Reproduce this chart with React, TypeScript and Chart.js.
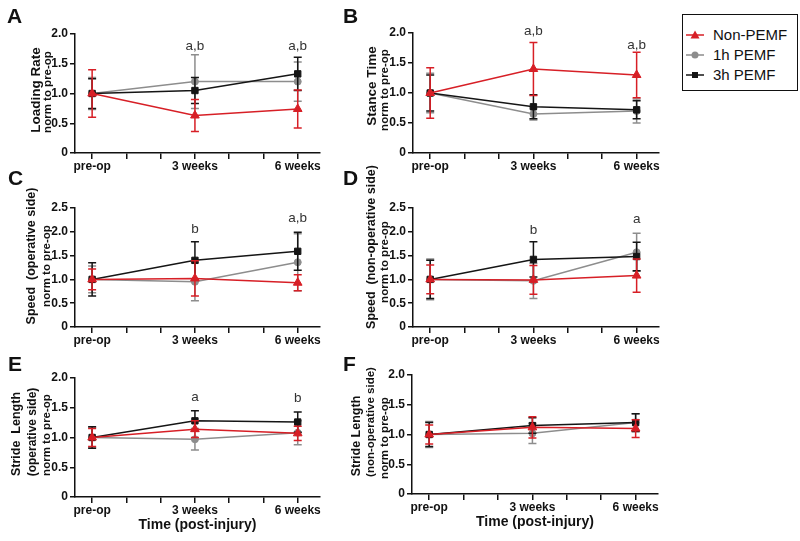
import React, { useEffect, useRef } from 'react';
import { Chart, registerables } from 'chart.js';
Chart.register(...registerables);

// ---------- data ----------
const weeks = [0, 3, 6];
const tickWeeks = [0, 1, 2, 3, 4, 5, 6];
const weekLabels: Record<number, string> = { 0: 'pre-op', 3: '3 weeks', 6: '6 weeks' };
const groupNames = ['Non-PEMF', '1h PEMF', '3h PEMF'];

// A: Loading rate
const loadingNon = [1.0, 0.63, 0.74];
const loadingNonErr = [0.4, 0.27, 0.32];
const loading1h = [1.0, 1.2, 1.2];
const loading1hErr = [0.27, 0.45, 0.33];
const loading3h = [1.0, 1.05, 1.33];
const loading3hErr = [0.25, 0.22, 0.28];
const loadingNotes = ['', 'a,b', 'a,b'];

// B: Stance time
const stanceNon = [1.0, 1.4, 1.3];
const stanceNonErr = [0.42, 0.44, 0.38];
const stance1h = [1.0, 0.65, 0.7];
const stance1hErr = [0.33, 0.1, 0.2];
const stance3h = [1.0, 0.77, 0.72];
const stance3hErr = [0.3, 0.2, 0.15];
const stanceNotes = ['', 'a,b', 'a,b'];

// C: Speed (operative side)
const speedOpNon = [1.0, 1.02, 0.93];
const speedOpNonErr = [0.22, 0.37, 0.17];
const speedOp1h = [1.0, 0.95, 1.36];
const speedOp1hErr = [0.28, 0.4, 0.6];
const speedOp3h = [1.0, 1.4, 1.59];
const speedOp3hErr = [0.35, 0.39, 0.4];
const speedOpNotes = ['', 'b', 'a,b'];

// D: Speed (non-operative side)
const speedNonOpNon = [1.0, 0.99, 1.08];
const speedNonOpNonErr = [0.3, 0.3, 0.35];
const speedNonOp1h = [1.0, 0.97, 1.57];
const speedNonOp1hErr = [0.43, 0.37, 0.4];
const speedNonOp3h = [1.0, 1.42, 1.48];
const speedNonOp3hErr = [0.4, 0.37, 0.3];
const speedNonOpNotes = ['', 'b', 'a'];

// E: Stride length (operative side)
const strideOpNon = [1.0, 1.14, 1.07];
const strideOpNonErr = [0.15, 0.14, 0.12];
const strideOp1h = [1.0, 0.97, 1.08];
const strideOp1hErr = [0.17, 0.18, 0.2];
const strideOp3h = [1.0, 1.28, 1.26];
const strideOp3hErr = [0.18, 0.17, 0.17];
const strideOpNotes = ['', 'a', 'b'];

// F: Stride length (non-operative side)
const strideNonOpNon = [1.0, 1.12, 1.1];
const strideNonOpNonErr = [0.16, 0.18, 0.15];
const strideNonOp1h = [1.0, 1.02, 1.2];
const strideNonOp1hErr = [0.22, 0.17, 0.15];
const strideNonOp3h = [1.0, 1.15, 1.2];
const strideNonOp3hErr = [0.2, 0.13, 0.15];
const strideNonOpNotes = ['', '', ''];

// ---------- styles ----------
const FONT = "'Liberation Sans', Arial, Helvetica, sans-serif";
const RED = '#d71f26';
const GRAY = '#8d8d8d';
const BLACK = '#151515';
const INK = '#111';

type Line = { t: string; cx: number; cy: number; s: number };
type PanelDef = {
  letter: string;
  yMax: number;
  non: number[]; nonErr: number[];
  h1: number[]; h1Err: number[];
  h3: number[]; h3Err: number[];
  notes: string[];
  noteY: number[];
  xTitle: boolean;
  L: { cl: number; ct: number; cw: number; ch: number; l: number; t: number; r: number; b: number; xh: number };
  letterPos: { x: number; y: number };
  titles: Line[];
};

const panels: PanelDef[] = [
  {
    letter: 'A', yMax: 2,
    non: loadingNon, nonErr: loadingNonErr, h1: loading1h, h1Err: loading1hErr, h3: loading3h, h3Err: loading3hErr,
    notes: loadingNotes, noteY: [0, 1.8, 1.8], xTitle: false,
    L: { cl: 0, ct: 0, cw: 340, ch: 175, l: 75, t: 34, r: 320, b: 153, xh: 20 },
    letterPos: { x: 7, y: 5 },
    titles: [
      { t: 'Loading Rate', cx: 36, cy: 90, s: 13.5 },
      { t: 'norm to pre-op', cx: 48, cy: 92, s: 11.5 },
    ],
  },
  {
    letter: 'B', yMax: 2,
    non: stanceNon, nonErr: stanceNonErr, h1: stance1h, h1Err: stance1hErr, h3: stance3h, h3Err: stance3hErr,
    notes: stanceNotes, noteY: [0, 2.03, 1.8], xTitle: false,
    L: { cl: 340, ct: 0, cw: 340, ch: 175, l: 413, t: 33, r: 659, b: 153, xh: 20 },
    letterPos: { x: 343, y: 5 },
    titles: [
      { t: 'Stance Time', cx: 372, cy: 86, s: 13.5 },
      { t: 'norm to pre-op', cx: 385, cy: 90, s: 11.5 },
    ],
  },
  {
    letter: 'C', yMax: 2.5,
    non: speedOpNon, nonErr: speedOpNonErr, h1: speedOp1h, h1Err: speedOp1hErr, h3: speedOp3h, h3Err: speedOp3hErr,
    notes: speedOpNotes, noteY: [0, 2.05, 2.28], xTitle: false,
    L: { cl: 0, ct: 175, cw: 340, ch: 175, l: 75, t: 208, r: 320, b: 327, xh: 20 },
    letterPos: { x: 8, y: 167 },
    titles: [
      { t: 'Speed  (operative side)', cx: 31, cy: 256, s: 12.5 },
      { t: 'norm to pre-op', cx: 47, cy: 266, s: 11.5 },
    ],
  },
  {
    letter: 'D', yMax: 2.5,
    non: speedNonOpNon, nonErr: speedNonOpNonErr, h1: speedNonOp1h, h1Err: speedNonOp1hErr, h3: speedNonOp3h, h3Err: speedNonOp3hErr,
    notes: speedNonOpNotes, noteY: [0, 2.03, 2.26], xTitle: false,
    L: { cl: 340, ct: 175, cw: 340, ch: 175, l: 413, t: 208, r: 659, b: 327, xh: 20 },
    letterPos: { x: 343, y: 167 },
    titles: [
      { t: 'Speed  (non-operative side)', cx: 371, cy: 247, s: 12.5 },
      { t: 'norm to pre-op', cx: 385, cy: 262, s: 11.5 },
    ],
  },
  {
    letter: 'E', yMax: 2,
    non: strideOpNon, nonErr: strideOpNonErr, h1: strideOp1h, h1Err: strideOp1hErr, h3: strideOp3h, h3Err: strideOp3hErr,
    notes: strideOpNotes, noteY: [0, 1.68, 1.66], xTitle: true,
    L: { cl: 0, ct: 350, cw: 340, ch: 191, l: 75, t: 378, r: 320, b: 497, xh: 37 },
    letterPos: { x: 8, y: 353 },
    titles: [
      { t: 'Stride  Length', cx: 16, cy: 434, s: 12.5 },
      { t: '(operative side)', cx: 32, cy: 432, s: 12 },
      { t: 'norm to pre-op', cx: 47, cy: 435, s: 11.5 },
    ],
  },
  {
    letter: 'F', yMax: 2,
    non: strideNonOpNon, nonErr: strideNonOpNonErr, h1: strideNonOp1h, h1Err: strideNonOp1hErr, h3: strideNonOp3h, h3Err: strideNonOp3hErr,
    notes: strideNonOpNotes, noteY: [0, 0, 0], xTitle: true,
    L: { cl: 340, ct: 350, cw: 340, ch: 191, l: 412, t: 375, r: 658, b: 494, xh: 37 },
    letterPos: { x: 343, y: 353 },
    titles: [
      { t: 'Stride Length', cx: 356, cy: 436, s: 12.5 },
      { t: '(non-operative side)', cx: 371, cy: 422, s: 11.5 },
      { t: 'norm to pre-op', cx: 385, cy: 438, s: 11.5 },
    ],
  },
];

const errorBarPlugin = {
  id: 'errorBars',
  beforeDatasetDraw(chart: any, args: any) {
    const ds = chart.data.datasets[args.index];
    const errs: number[] = ds.errors;
    if (!errs) return;
    const ctx = chart.ctx;
    const xs = chart.scales.x;
    const ys = chart.scales.y;
    ctx.save();
    ctx.strokeStyle = ds.borderColor;
    ctx.lineWidth = 1.5;
    ds.data.forEach((p: any, i: number) => {
      const e = errs[i];
      const x = xs.getPixelForValue(p.x);
      const y1 = ys.getPixelForValue(p.y + e);
      const y2 = ys.getPixelForValue(p.y - e);
      ctx.beginPath();
      ctx.moveTo(x, y1);
      ctx.lineTo(x, y2);
      ctx.moveTo(x - 4, y1);
      ctx.lineTo(x + 4, y1);
      ctx.moveTo(x - 4, y2);
      ctx.lineTo(x + 4, y2);
      ctx.stroke();
    });
    ctx.restore();
  },
};

function Panel({ p }: { p: PanelDef }) {
  const ref = useRef<HTMLCanvasElement>(null);
  useEffect(() => {
    const L = p.L;
    const series = [
      { label: groupNames[0], values: p.non, errors: p.nonErr, color: RED, point: 'triangle', radius: 5 },
      { label: groupNames[2], values: p.h3, errors: p.h3Err, color: BLACK, point: 'rect', radius: 4.5 },
      { label: groupNames[1], values: p.h1, errors: p.h1Err, color: GRAY, point: 'circle', radius: 3.5 },
    ];
    const yTicks: number[] = [];
    for (let v = 0; v <= p.yMax + 1e-9; v += 0.5) yTicks.push(v);
    const notesPlugin = {
      id: 'notes',
      afterDatasetsDraw(chart: any) {
        const ctx = chart.ctx;
        ctx.save();
        ctx.font = `13.5px ${FONT}`;
        ctx.fillStyle = '#333';
        ctx.textAlign = 'center';
        ctx.textBaseline = 'middle';
        p.notes.forEach((t, i) => {
          if (!t) return;
          ctx.fillText(t, chart.scales.x.getPixelForValue(weeks[i]), chart.scales.y.getPixelForValue(p.noteY[i]));
        });
        ctx.restore();
      },
    };
    const tickFont = { family: FONT, size: 12, weight: 'bold' as const };
    const chart = new Chart(ref.current!, {
      type: 'line',
      data: {
        datasets: series.map((s) => ({
          label: s.label,
          data: weeks.map((w, i) => ({ x: w, y: s.values[i] })),
          errors: s.errors,
          borderColor: s.color,
          backgroundColor: s.color,
          pointBackgroundColor: s.color,
          pointBorderColor: s.color,
          pointStyle: s.point,
          pointRadius: s.radius,
          pointBorderWidth: 1,
          borderWidth: 1.5,
          tension: 0,
          fill: false,
        })) as any,
      },
      options: {
        responsive: false,
        animation: false,
        events: [],
        layout: {
          padding: { left: 0, top: L.t - L.ct, right: L.cl + L.cw - L.r, bottom: L.ct + L.ch - L.b - L.xh },
        },
        plugins: { legend: { display: false }, tooltip: { enabled: false } },
        scales: {
          x: {
            type: 'linear',
            min: -0.5,
            max: 6.65,
            afterBuildTicks: (s: any) => { s.ticks = tickWeeks.map((v) => ({ value: v })); },
            afterFit: (s: any) => { s.height = L.xh; },
            ticks: {
              callback: (v: any) => weekLabels[v as number] ?? '',
              font: tickFont,
              color: INK,
              padding: 0,
              maxRotation: 0,
              minRotation: 0,
              autoSkip: false,
            },
            grid: { drawOnChartArea: false, drawTicks: true, tickLength: 6, color: INK, lineWidth: 1.5 },
            border: { display: true, color: INK, width: 1.5 },
            title: p.xTitle
              ? { display: true, text: 'Time (post-injury)', font: { family: FONT, size: 14, weight: 'bold' }, color: INK, padding: 0 }
              : { display: false },
          },
          y: {
            type: 'linear',
            min: 0,
            max: p.yMax,
            afterBuildTicks: (s: any) => { s.ticks = yTicks.map((v) => ({ value: v })); },
            afterFit: (s: any) => { s.width = L.l - L.cl; },
            ticks: {
              callback: (v: any) => (v === 0 ? '0' : Number(v).toFixed(1)),
              font: tickFont,
              color: INK,
              padding: 2,
            },
            grid: { drawOnChartArea: false, drawTicks: true, tickLength: 5, color: INK, lineWidth: 1.5 },
            border: { display: true, color: INK, width: 1.5 },
          },
        },
      } as any,
      plugins: [errorBarPlugin, notesPlugin],
    });
    return () => chart.destroy();
  }, [p]);
  const L = p.L;
  return (
    <>
      <canvas
        ref={ref}
        width={L.cw}
        height={L.ch}
        style={{ position: 'absolute', left: L.cl, top: L.ct, width: L.cw, height: L.ch }}
      />
      <div
        style={{
          position: 'absolute', left: p.letterPos.x, top: p.letterPos.y,
          font: `bold 21px ${FONT}`, lineHeight: '21px', color: INK,
        }}
      >
        {p.letter}
      </div>
      {p.titles.map((ln, i) => (
        <div
          key={i}
          style={{
            position: 'absolute', left: ln.cx, top: ln.cy,
            transform: 'translate(-50%, -50%) rotate(-90deg)',
            whiteSpace: 'pre', fontFamily: FONT, fontWeight: 'bold', fontSize: ln.s,
            lineHeight: 1, color: INK,
          }}
        >
          {ln.t}
        </div>
      ))}
    </>
  );
}

function LegendMarker({ kind, color }: { kind: string; color: string }) {
  return (
    <svg width={22} height={12} style={{ position: 'absolute', left: 0, top: 0 }}>
      <line x1={2} y1={6} x2={20} y2={6} stroke={color} strokeWidth={1.5} />
      {kind === 'triangle' && <polygon points="11,1.5 15.5,9.5 6.5,9.5" fill={color} />}
      {kind === 'circle' && <circle cx={11} cy={6} r={3.5} fill={color} />}
      {kind === 'rect' && <rect x={8} y={3} width={6} height={6} fill={color} />}
    </svg>
  );
}

export default function App() {
  const legendRows = [
    { name: groupNames[0], kind: 'triangle', color: RED, cy: 35 },
    { name: groupNames[1], kind: 'circle', color: GRAY, cy: 55 },
    { name: groupNames[2], kind: 'rect', color: BLACK, cy: 75 },
  ];
  return (
    <div style={{ position: 'absolute', left: 0, top: 0, width: 800, height: 541, background: '#fff', overflow: 'hidden' }}>
      {panels.map((p) => (
        <Panel key={p.letter} p={p} />
      ))}
      <div
        style={{
          position: 'absolute', left: 682, top: 14, width: 116, height: 77,
          border: `1.5px solid ${INK}`, boxSizing: 'border-box',
        }}
      />
      {legendRows.map((r) => (
        <React.Fragment key={r.name}>
          <div style={{ position: 'absolute', left: 684, top: r.cy - 6, width: 22, height: 12 }}>
            <LegendMarker kind={r.kind} color={r.color} />
          </div>
          <div
            style={{
              position: 'absolute', left: 713, top: r.cy - 9, fontFamily: FONT, fontSize: 15,
              lineHeight: '18px', color: INK, whiteSpace: 'nowrap',
            }}
          >
            {r.name}
          </div>
        </React.Fragment>
      ))}
    </div>
  );
}
